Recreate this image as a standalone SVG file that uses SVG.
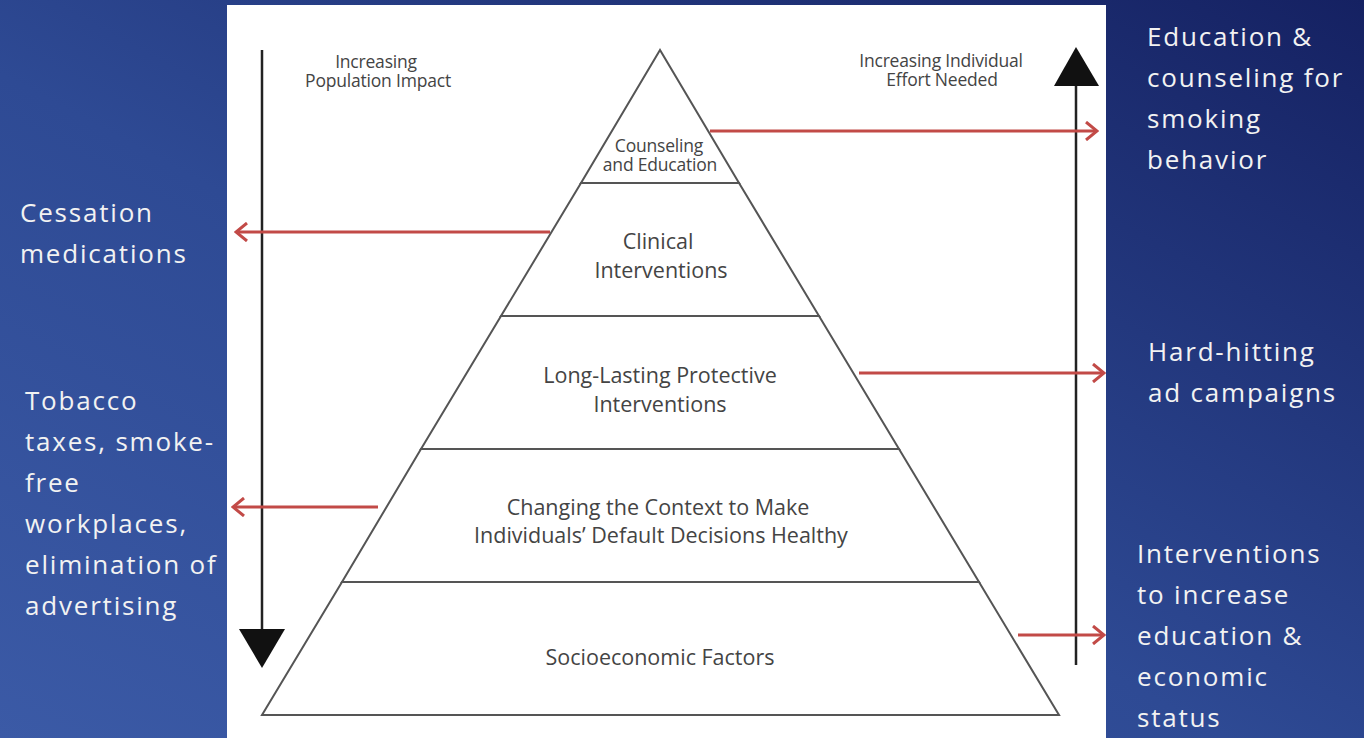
<svg xmlns="http://www.w3.org/2000/svg" width="1364" height="738" viewBox="0 0 1364 738">
<defs>
<linearGradient id="bg" x1="0" y1="1" x2="1" y2="0">
<stop offset="0" stop-color="#3b5aa6"/>
<stop offset="0.45" stop-color="#2e4a94"/>
<stop offset="1" stop-color="#152162"/>
</linearGradient>
<marker id="redHead" viewBox="0 0 14 20" refX="12" refY="10" markerWidth="14" markerHeight="20" markerUnits="userSpaceOnUse" orient="auto">
<path d="M1,1 L12,10 L1,19" fill="none" stroke="#c24a47" stroke-width="3"/>
</marker>
<style>
.side{font-family:"Open Sans","Liberation Sans",sans-serif;font-size:26px;fill:#f2f2f2;letter-spacing:1.8px}
.pyr{font-family:"Open Sans","Liberation Sans",sans-serif;fill:#444;text-anchor:middle;font-size:21.5px}
.small{font-size:17.5px;letter-spacing:-0.2px}
.layer{fill:#fff;stroke:#555;stroke-width:2}
.red{stroke:#c24a47;stroke-width:3;fill:none;marker-end:url(#redHead)}
.axis{stroke:#222;stroke-width:2.5;fill:none}
</style>
</defs>
<rect x="0" y="0" width="1364" height="738" fill="url(#bg)"/>
<rect x="227" y="5" width="879" height="733" fill="#ffffff"/>

<g id="pyramid">
<g id="layer-counseling">
<polygon class="layer" points="660,50 581,183 739,183"/>
<text class="pyr small" x="659" y="152">Counseling</text>
<text class="pyr small" x="660" y="171">and Education</text>
</g>
<g id="layer-clinical">
<polygon class="layer" points="581,183 739,183 819,316 501,316"/>
<text class="pyr" x="658" y="249">Clinical</text>
<text class="pyr" x="661" y="278">Interventions</text>
</g>
<g id="layer-protective">
<polygon class="layer" points="501,316 819,316 899,449 421,449"/>
<text class="pyr" x="660" y="383">Long-Lasting Protective</text>
<text class="pyr" x="660" y="412">Interventions</text>
</g>
<g id="layer-context">
<polygon class="layer" points="421,449 899,449 979,582 342,582"/>
<text class="pyr" x="658" y="515">Changing the Context to Make</text>
<text class="pyr" x="661" y="543">Individuals’ Default Decisions Healthy</text>
</g>
<g id="layer-socioeconomic">
<polygon class="layer" points="342,582 979,582 1059,715 262,715"/>
<text class="pyr" x="660" y="665">Socioeconomic Factors</text>
</g>
</g>

<g id="axis-population">
<line class="axis" x1="262" y1="50" x2="262" y2="632"/>
<polygon points="239,629 285,629 262,668" fill="#111"/>
<text class="pyr small" x="376" y="68">Increasing</text>
<text class="pyr small" x="378" y="87">Population Impact</text>
</g>

<g id="axis-effort">
<line class="axis" x1="1076" y1="84" x2="1076" y2="665"/>
<polygon points="1054,86 1099,86 1076,47" fill="#111"/>
<text class="pyr small" x="941" y="67">Increasing Individual</text>
<text class="pyr small" x="942" y="86">Effort Needed</text>
</g>

<g id="label-education">
<text class="side" x="1147" y="46">Education &amp;</text>
<text class="side" x="1147" y="87">counseling for</text>
<text class="side" x="1147" y="128">smoking</text>
<text class="side" x="1147" y="169">behavior</text>
</g>
<g id="label-cessation">
<text class="side" x="20" y="222">Cessation</text>
<text class="side" x="20" y="263">medications</text>
</g>
<g id="label-adcampaigns">
<text class="side" x="1148" y="361">Hard-hitting</text>
<text class="side" x="1148" y="402">ad campaigns</text>
</g>
<g id="label-tobacco">
<text class="side" x="25" y="410">Tobacco</text>
<text class="side" x="25" y="451">taxes, smoke-</text>
<text class="side" x="25" y="492">free</text>
<text class="side" x="25" y="533">workplaces,</text>
<text class="side" x="25" y="574">elimination of</text>
<text class="side" x="25" y="615">advertising</text>
</g>
<g id="label-interventions">
<text class="side" x="1137" y="563">Interventions</text>
<text class="side" x="1137" y="604">to increase</text>
<text class="side" x="1137" y="645">education &amp;</text>
<text class="side" x="1137" y="686">economic</text>
<text class="side" x="1137" y="727">status</text>
</g>

<g id="connectors">
<line class="red" x1="710" y1="131" x2="1097" y2="131"/>
<line class="red" x1="550" y1="232" x2="236" y2="232"/>
<line class="red" x1="859" y1="373" x2="1104" y2="373"/>
<line class="red" x1="378" y1="507" x2="233" y2="507"/>
<line class="red" x1="1018" y1="635" x2="1104" y2="635"/>
</g>
</svg>
